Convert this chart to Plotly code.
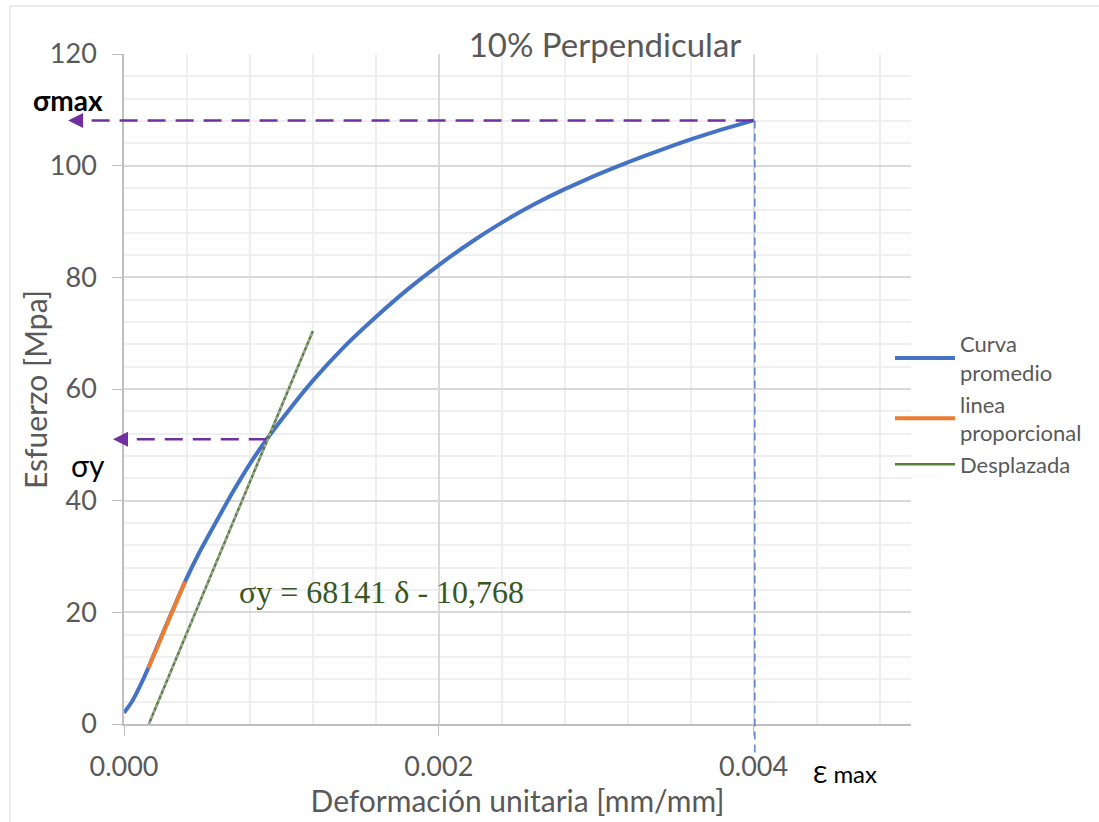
import plotly.graph_objects as go

# ---- data ----
curve_strain = [0, 0.00005, 0.0001, 0.000154, 0.00022, 0.0003, 0.000388, 0.00048, 0.000567,
                0.00068, 0.0008, 0.000907, 0.00105, 0.0012, 0.0014, 0.0016, 0.0018, 0.002,
                0.0022, 0.0024, 0.0026, 0.0028, 0.003, 0.0032, 0.0034, 0.0036, 0.0038, 0.004]
curve_stress = [2.0, 4.0, 6.7, 10.0, 14.5, 19.8, 25.5, 30.8, 35.3,
                41.0, 46.6, 51.0, 56.3, 61.5, 67.6, 72.9, 77.8, 82.2,
                86.2, 89.8, 93.0, 95.8, 98.3, 100.6, 102.7, 104.7, 106.5, 108.1]
prop_strain = [0.000154, 0.00022, 0.0003, 0.000388]
prop_stress = [10.0, 14.5, 19.8, 25.5]
offset_strain = [0.000158, 0.0012]
offset_stress = [0.0, 70.4]

sigma_max = 108.1
eps_max = 0.004
sigma_y = 51.0
eps_y = 0.000907

X_RANGE = [0, 0.005]
Y_RANGE = [0, 120]
x_ticks = [0, 0.002, 0.004]
x_ticklabels = ["0.000", "0.002", "0.004"]

FONT = "Lato, 'Open Sans', sans-serif"
GRAY = "#595959"
PURPLE = "#7030A0"

fig = go.Figure()
fig.add_trace(go.Scatter(x=curve_strain, y=curve_stress, mode="lines", name="Curva<br>promedio",
                         line=dict(color="#4472C4", width=4, shape="spline", smoothing=0.4)))
fig.add_trace(go.Scatter(x=prop_strain, y=prop_stress, mode="lines", name="linea<br>proporcional",
                         line=dict(color="#ED7D31", width=4)))
fig.add_trace(go.Scatter(x=offset_strain, y=offset_stress, mode="lines", name="Desplazada",
                         line=dict(color="#548235", width=2.5)))
fig.add_trace(go.Scatter(x=offset_strain, y=offset_stress, mode="lines", showlegend=False,
                         hoverinfo="skip", line=dict(color="#A5A5A5", width=2.5, dash="3px,3px")))

def xp(v):
    return (v - X_RANGE[0]) / (X_RANGE[1] - X_RANGE[0])

def yp(v):
    return (v - Y_RANGE[0]) / (Y_RANGE[1] - Y_RANGE[0])

shapes = [
    # sigma max dashed arrow line
    dict(type="line", xref="paper", yref="y", x0=xp(eps_max), x1=-0.065, y0=sigma_max, y1=sigma_max,
         line=dict(color=PURPLE, width=2.5, dash="18px,10px")),
    # sigma y dashed arrow line
    dict(type="line", xref="paper", yref="y", x0=xp(eps_y), x1=-0.005, y0=sigma_y, y1=sigma_y,
         line=dict(color=PURPLE, width=2.5, dash="18px,10px")),
    # vertical epsilon max line
    dict(type="line", xref="x", yref="paper", x0=eps_max * 1.002, x1=eps_max * 1.002,
         y0=yp(sigma_max), y1=-0.043, line=dict(color="#4472C4", width=1.3, dash="8px,5px")),
    # chart outer border (top and left)
    dict(type="line", xref="paper", yref="paper", x0=(10 - 124) / 787, x1=(1099 - 124) / 787,
         y0=(724 - 6) / 670, y1=(724 - 6) / 670, line=dict(color="#d9d9d9", width=1)),
    dict(type="line", xref="paper", yref="paper", x0=(10 - 124) / 787, x1=(10 - 124) / 787,
         y0=(724 - 6) / 670, y1=(724 - 830) / 670, line=dict(color="#d9d9d9", width=1)),
]

annotations = [
    dict(xref="paper", yref="y", x=-0.071, y=sigma_max, ax=14, ay=0, showarrow=True, text="",
         arrowhead=2, arrowsize=1.2, arrowwidth=2.5, arrowcolor=PURPLE),
    dict(xref="paper", yref="y", x=(113 - 124) / 787, y=sigma_y, ax=14, ay=0, showarrow=True, text="",
         arrowhead=2, arrowsize=1.2, arrowwidth=2.5, arrowcolor=PURPLE),
    dict(xref="paper", yref="y", x=(68 - 124) / 787, y=111.8, text="<b>σmax</b>", showarrow=False,
         xanchor="center", yanchor="middle",
         font=dict(family=FONT, size=28, color="black")),
    dict(xref="paper", yref="y", x=(88 - 124) / 787, y=46.3, text="σy", showarrow=False,
         xanchor="center", yanchor="middle",
         font=dict(family=FONT, size=30, color="black")),
    dict(xref="paper", yref="paper", x=(845 - 124) / 787, y=(724 - 773) / 670, text="Ɛ max",
         xanchor="center", yanchor="middle",
         showarrow=False, font=dict(family=FONT, size=24, color="black")),
    dict(xref="x", yref="y", x=0.001633, y=23.6, text="σy = 68141 δ - 10,768", showarrow=False,
         xanchor="center", yanchor="middle",
         font=dict(family="'Liberation Serif', 'Times New Roman', serif", size=32, color="#385723")),
    # y axis title
    dict(xref="paper", yref="paper", x=(35 - 124) / 787, y=(724 - 390) / 670, text="Esfuerzo [Mpa]",
         textangle=-90, showarrow=False, xanchor="center", yanchor="middle",
         font=dict(family=FONT, size=30, color=GRAY)),
]

fig.update_layout(
    width=1099, height=822,
    margin=dict(l=124, r=188, t=54, b=98),
    paper_bgcolor="white", plot_bgcolor="white",
    font=dict(family=FONT, color=GRAY),
    title=dict(text="10% Perpendicular", x=605 / 1099, xanchor="center", y=1 - 45 / 822,
               yanchor="middle", font=dict(family=FONT, size=33, color=GRAY)),
    showlegend=True,
    legend=dict(x=(890 - 124) / 787, xanchor="left", y=(724 - 323) / 670, yanchor="top",
                font=dict(family=FONT, size=22, color=GRAY), tracegroupgap=0,
                itemwidth=60, bgcolor="rgba(0,0,0,0)"),
    shapes=shapes,
    annotations=annotations,
)
fig.update_xaxes(range=X_RANGE, tickvals=x_ticks, ticktext=x_ticklabels,
                 showgrid=True, gridcolor="#d9d9d9", gridwidth=1.5,
                 minor=dict(dtick=0.0004, tick0=0, showgrid=True, gridcolor="#efefef", gridwidth=1.5),
                 showline=True, linecolor="#bfbfbf", linewidth=1.5,
                 ticks="outside", ticklen=10, tickcolor="#bfbfbf", ticklabelstandoff=8,
                 tickfont=dict(family=FONT, size=27, color=GRAY),
                 title=dict(text="Deformación unitaria [mm/mm]", standoff=6,
                            font=dict(family=FONT, size=30, color=GRAY)),
                 zeroline=False)
fig.update_yaxes(range=Y_RANGE, dtick=20, tick0=0,
                 showgrid=True, gridcolor="#d9d9d9", gridwidth=1.5,
                 minor=dict(dtick=4, tick0=0, showgrid=True, gridcolor="#efefef", gridwidth=1.5),
                 showline=True, linecolor="#bfbfbf", linewidth=1.5,
                 ticks="outside", ticklen=10, tickcolor="#bfbfbf", ticklabelstandoff=10,
                 tickfont=dict(family=FONT, size=27, color=GRAY),
                 zeroline=False)

fig.write_html("out.html")
